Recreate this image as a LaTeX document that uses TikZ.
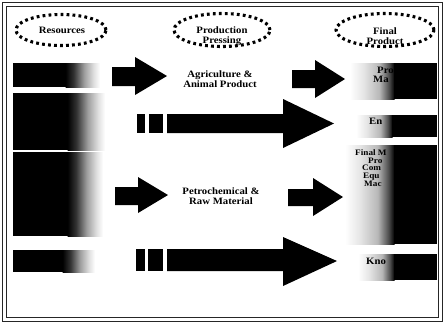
\documentclass[tikz,border=0pt]{standalone}
\usepackage{fontspec}
\setmainfont{Liberation Serif}[FakeStretch=1.1]
\usetikzlibrary{shapes.geometric}
\pgfdeclarehorizontalshading{fadeLs}{100bp}{color(0bp)=(black); color(25bp)=(black); color(37bp)=(black!80); color(52bp)=(black!38); color(66bp)=(black!12); color(75bp)=(white); color(100bp)=(white)}
\pgfdeclarehorizontalshading{fadeRs}{100bp}{color(0bp)=(white); color(25bp)=(white); color(40bp)=(black!10); color(58bp)=(black!28); color(69bp)=(black!70); color(75bp)=(black); color(100bp)=(black)}
\tikzset{
  lbl/.style={font=\fontsize{9.8}{9.8}\selectfont\bfseries, align=center, inner sep=0pt},
  frag/.style={font=\fontsize{9.8}{9.8}\selectfont\bfseries, anchor=base west, inner sep=0pt},
  fragsm/.style={font=\fontsize{8.4}{8.4}\selectfont\bfseries, anchor=base west, inner sep=0pt},
  dotell/.style={ellipse, draw, line width=3.1bp, dash pattern=on 2.8bp off 3.2bp, inner sep=0pt},
  blk/.style={fill=black},
  fadeL/.style={shading=fadeLs},
  fadeR/.style={shading=fadeRs},
}
\begin{document}
\begin{tikzpicture}[x=1bp, y=-1bp]
\useasboundingbox (0,0) rectangle (446,326);
\fill[white] (0,0) rectangle (446,326);
% frame
\draw[line width=1.3bp, black!85] (2.5,2.5) rectangle (442.5,321.5);
\draw[line width=1bp, black!85] (6.5,6.5) rectangle (438.5,317.5);

% heading ellipses
\node[dotell, minimum width=90bp, minimum height=31bp] (eres) at (61,30) {};
\node[dotell, minimum width=96bp, minimum height=33bp] (epro) at (222,30) {};
\node[dotell, minimum width=98bp, minimum height=33bp] (efin) at (385,30) {};
\node[lbl, anchor=base] (tres) at (62,33) {Resources};
\node[lbl] (tpro) at (222,36) {Production\\Pressing};
\node[lbl] (tfin) at (385,36.5) {Final\\Product};

% left resource bars
\fill[blk] (13,63) rectangle (66,87);
\shade[fadeL] (65.5,63) rectangle (100,87);
\fill[blk] (13,93) rectangle (68,150);
\shade[fadeL] (67.5,93) rectangle (105,150);
\fill[blk] (13,152) rectangle (68,236);
\shade[fadeL] (67.5,152) rectangle (103,236);
\fill[blk] (13,250) rectangle (63,272);
\shade[fadeL] (62.5,250) rectangle (95,272);

% right product bars
\shade[fadeR] (350,63) rectangle (394.5,99);
\fill[blk] (394,63) rectangle (437,99);
\shade[fadeR] (356,115) rectangle (392.5,137);
\fill[blk] (392,115) rectangle (437,137);
\shade[fadeR] (345,145) rectangle (394.5,244);
\fill[blk] (394,145) rectangle (437,244);
\shade[fadeR] (358,254) rectangle (394.5,280);
\fill[blk] (394,254) rectangle (437,280);

% short arrows
\fill[blk] (112,67) -- (135,67) -- (135,57) -- (167,76) -- (135,95) -- (135,86) -- (112,86) -- cycle;
\fill[blk] (292,70) -- (315,70) -- (315,60) -- (345,79) -- (315,98) -- (315,88) -- (292,88) -- cycle;
\fill[blk] (115,187) -- (138,187) -- (138,177) -- (168,195) -- (138,213) -- (138,205) -- (115,205) -- cycle;
\fill[blk] (288,189) -- (313,189) -- (313,178) -- (343,197) -- (313,216) -- (313,206) -- (288,206) -- cycle;

% long arrows
\fill[blk] (137,114) rectangle (145,133);
\fill[blk] (149,114) rectangle (163,133);
\fill[blk] (167,114) -- (283,114) -- (283,99) -- (334,123.5) -- (283,148) -- (283,133) -- (167,133) -- cycle;
\fill[blk] (136,249) rectangle (145,271);
\fill[blk] (148,249) rectangle (163,271);
\fill[blk] (167,249) -- (283,249) -- (283,237) -- (337,261) -- (283,286) -- (283,271) -- (167,271) -- cycle;

% middle texts
\node[lbl] (tagr) at (220,79) {Agriculture \&\\Animal Product};
\node[lbl] (tpet) at (221,196.5) {Petrochemical \&\\Raw Material};

% product texts (partly hidden in the bars)
\node[frag] (p1a) at (377,73) {Pro};
\node[frag] (p1b) at (373,82.5) {Ma};
\node[frag] (p2) at (369,124) {En};
\node[fragsm] (p3a) at (355,155) {Final M};
\node[fragsm] (p3b) at (368,163) {Pro};
\node[fragsm] (p3c) at (362,170.7) {Com};
\node[fragsm] (p3d) at (363,178.4) {Equ};
\node[fragsm] (p3e) at (364,186) {Mac};
\node[frag] (p4) at (366,264) {Kno};
\end{tikzpicture}
\end{document}
